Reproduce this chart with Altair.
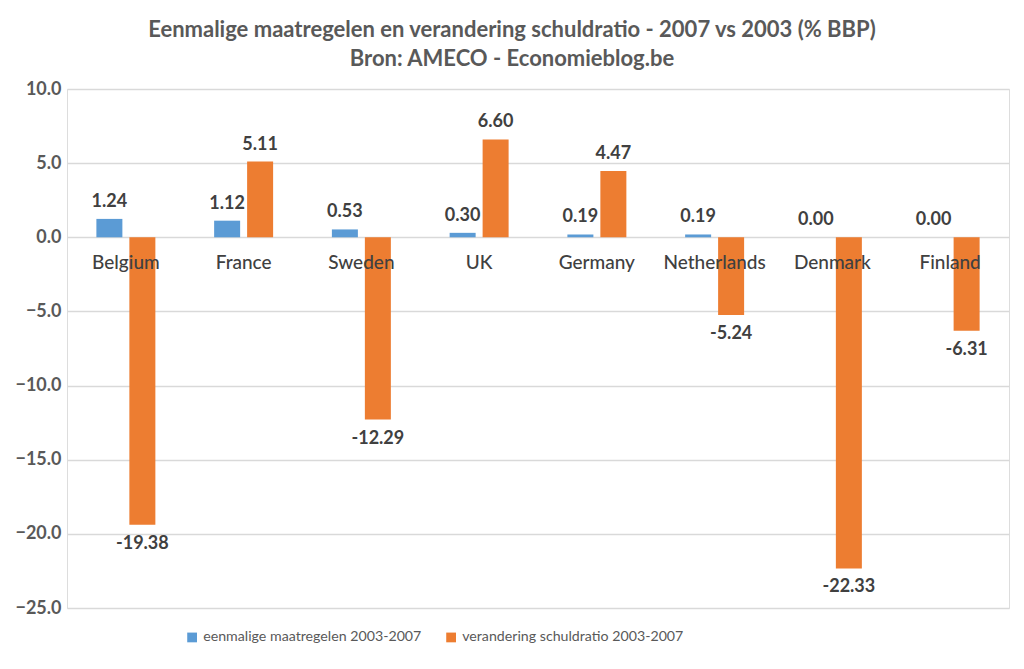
import altair as alt
import pandas as pd

countries = ["Belgium", "France", "Sweden", "UK", "Germany", "Netherlands", "Denmark", "Finland"]
eenmalig = [1.24, 1.12, 0.53, 0.30, 0.19, 0.19, 0.00, 0.00]
schuld = [-19.38, 5.11, -12.29, 6.60, 4.47, -5.24, -22.33, -6.31]
series = ["eenmalige maatregelen 2003-2007", "verandering schuldratio 2003-2007"]
colors = ["#5B9BD5", "#ED7D31"]
y_ticks = [10, 5, 0, -5, -10, -15, -20, -25]

rows = []
for c, a, b in zip(countries, eenmalig, schuld):
    rows.append({"country": c, "series": series[0], "value": a})
    rows.append({"country": c, "series": series[1], "value": b})
df = pd.DataFrame(rows)
df["label"] = df["value"].map(lambda v: f"{v:.2f}")
cat_df = pd.DataFrame({"country": countries})

FONT = "Lato"
x = alt.X("country:N", sort=countries, axis=None,
          scale=alt.Scale(paddingInner=0, paddingOuter=0))
xoff = alt.XOffset("series:N", sort=series,
                   scale=alt.Scale(paddingInner=0.21, paddingOuter=0.89))
y_scale = alt.Scale(domain=[-25, 10], nice=False, zero=False)

bars = alt.Chart(df).mark_bar(width=26).encode(
    x=x, xOffset=xoff,
    y=alt.Y("value:Q", scale=y_scale,
            axis=alt.Axis(values=y_ticks, format=".1f", title=None, domain=False, ticks=False,
                          labelFontSize=18, labelFontWeight="bold", labelColor="#595959",
                          labelFont=FONT, labelPadding=6, gridColor="#D9D9D9", gridWidth=1.3)),
    color=alt.Color("series:N", sort=series, scale=alt.Scale(domain=series, range=colors),
                    legend=alt.Legend(title=None, orient="none", legendX=118, legendY=541,
                                      direction="horizontal", symbolType="square",
                                      symbolSize=95, symbolStrokeWidth=0,
                                      labelFontSize=14.2, labelFont=FONT, labelColor="#595959",
                                      columnPadding=22, labelLimit=400, symbolOpacity=1)),
)

pos_text = alt.Chart(df).transform_filter("datum.value >= 0").mark_text(
    dy=-17, fontSize=18, fontWeight="bold", font=FONT, color="#404040"
).encode(x=x, xOffset=xoff, y=alt.Y("value:Q", scale=y_scale), text="label:N")

neg_text = alt.Chart(df).transform_filter("datum.value < 0").mark_text(
    dy=19, fontSize=18, fontWeight="bold", font=FONT, color="#404040"
).encode(x=x, xOffset=xoff, y=alt.Y("value:Q", scale=y_scale), text="label:N")

cat_text = alt.Chart(cat_df).mark_text(
    dy=26, fontSize=19, font=FONT, color="#404040", fontWeight=500
).encode(x=x, y=alt.datum(0), text="country:N")

chart = alt.layer(bars, pos_text, neg_text, cat_text).properties(
    width=942, height=519,
    title=alt.TitleParams(
        ["Eenmalige maatregelen en verandering schuldratio - 2007 vs 2003 (% BBP)",
         "Bron: AMECO - Economieblog.be"],
        font=FONT, fontSize=22, fontWeight="bold", color="#595959",
        anchor="middle", frame="bounds", lineHeight=29, offset=9),
    padding={"left": 6, "top": 11, "right": 6, "bottom": 4},
).configure_view(stroke=None).configure(background="white")

chart.save("out.html", embed_options={"renderer": "svg", "actions": False})
